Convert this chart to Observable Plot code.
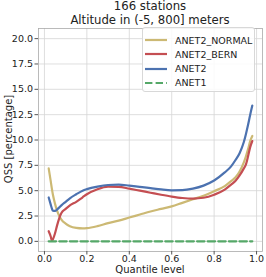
<!DOCTYPE html>
<html><head><meta charset="utf-8">
<script src="https://cdn.jsdelivr.net/npm/d3@7"></script>
<script src="https://cdn.jsdelivr.net/npm/@observablehq/plot@0.6"></script>
<style>
body{margin:0;background:#fff;font-family:"DejaVu Sans",sans-serif;}
#wrap{position:relative;width:266px;height:277px;}
#title{position:absolute;left:38px;width:224px;top:0;text-align:center;font-size:11.7px;line-height:13.5px;color:#222;}
#chart{position:absolute;left:0;top:0;}
#xlabel{position:absolute;left:38px;width:224px;top:264px;text-align:center;font-size:10px;line-height:11px;color:#222;}
#ylabel{position:absolute;left:8px;top:139px;width:0;height:0;}
#ylabel span{position:absolute;left:0;top:0;transform:translate(-50%,-50%) rotate(-90deg);white-space:nowrap;font-size:10px;line-height:11px;color:#222;}
#legend{position:absolute;left:142px;top:27px;width:113px;height:65px;border:1px solid #d8d8d8;border-radius:3px;background:rgba(255,255,255,0.85);box-sizing:border-box;font-size:9.5px;color:#222;}
.item{position:absolute;left:2px;height:14px;display:flex;align-items:center;}
.item svg{margin-right:8px;}
</style></head><body>
<div id="wrap">
<div id="chart"></div>
<div id="title">166 stations<br>Altitude in (-5, 800] meters</div>
<div id="xlabel">Quantile level</div>
<div id="ylabel"><span>QSS [percentage]</span></div>
<div id="legend"></div>
</div>
<script>
const quantiles = [0.02,0.03,0.035,0.04,0.05,0.06,0.07,0.08,0.1,0.12,0.15,0.18,0.2,0.25,0.3,0.35,0.4,0.45,0.5,0.55,0.6,0.65,0.7,0.75,0.8,0.85,0.88,0.9,0.92,0.94,0.95,0.96,0.97,0.98];
const anet2Normal = [7.2,5.9,5.2,4.6,3.7,3.0,2.5,2.15,1.75,1.5,1.33,1.28,1.3,1.5,1.8,2.05,2.35,2.65,2.95,3.2,3.45,3.8,4.15,4.5,4.95,5.45,5.95,6.3,6.9,7.8,8.4,9.1,9.9,10.4];
const anet2Bern   = [1.0,0.45,0.05,0.2,0.8,1.6,2.3,2.8,3.2,3.55,3.9,4.35,4.65,5.15,5.4,5.38,5.2,5.0,4.8,4.6,4.42,4.28,4.22,4.3,4.6,5.1,5.6,5.95,6.5,7.2,7.6,8.4,9.3,9.9];
const anet2       = [4.33,3.6,3.25,3.02,3.0,3.15,3.35,3.55,3.9,4.25,4.65,5.0,5.15,5.4,5.56,5.6,5.5,5.38,5.25,5.12,5.04,5.05,5.2,5.5,6.0,6.8,7.4,8.0,8.7,9.8,10.6,11.5,12.5,13.4];
const anet1       = quantiles.map(() => 0);
const seriesNames = ["ANET2_NORMAL","ANET2_BERN","ANET2","ANET1"];
const seriesColors = ["#CCB974","#C44E52","#4C72B0","#55A868"];
const seriesValues = [anet2Normal, anet2Bern, anet2, anet1];
const xTicks = [0,0.2,0.4,0.6,0.8,1.0];
const yTicks = [0,2.5,5,7.5,10,12.5,15,17.5,20];

const rows = [];
seriesNames.forEach((name,i)=>quantiles.forEach((q,j)=>rows.push({series:name,q,v:seriesValues[i][j]})));

const plot = Plot.plot({
  width:266, height:277,
  marginTop:28, marginBottom:26, marginLeft:38, marginRight:4,
  style:{fontFamily:"DejaVu Sans, sans-serif", fontSize:"9.5px", color:"#222", background:"#fff"},
  x:{domain:[-0.028,1.028]},
  y:{domain:[-1,21]},
  color:{domain:seriesNames, range:seriesColors},
  marks:[
    Plot.gridX(xTicks,{stroke:"#d5d5d5", strokeOpacity:1, strokeWidth:0.8}),
    Plot.gridY(yTicks,{stroke:"#d5d5d5", strokeOpacity:1, strokeWidth:0.8}),
    Plot.frame({stroke:"#aaa", strokeWidth:0.8}),
    Plot.lineY(rows.filter(d=>d.series!=="ANET1"),{x:"q", y:"v", stroke:"series", strokeWidth:2.2, curve:"monotone-x"}),
    Plot.lineY(rows.filter(d=>d.series==="ANET1"),{x:"q", y:"v", stroke:"series", strokeWidth:2.2, strokeDasharray:"7.4,3.2"}),
    Plot.axisX({ticks:xTicks, tickSize:3.5, stroke:"#555", text:null, label:null}),
    Plot.axisX({ticks:xTicks, tickFormat:d3.format(".1f"), tickSize:0, tickPadding:0, dy:3.5, label:null, fontSize:9.5}),
    Plot.axisY({ticks:yTicks, tickFormat:d3.format(".1f"), tickSize:3.5, tickPadding:2, stroke:"#555", label:null, fontSize:9.5})
  ]
});
document.getElementById("chart").appendChild(plot);

const leg = document.getElementById("legend");
seriesNames.forEach((name,i)=>{
  const it = document.createElement("div");
  it.className="item";
  it.style.top = (5 + i*14.3) + "px";
  const dash = name==="ANET1" ? ' stroke-dasharray="7.4,3.2"' : '';
  it.innerHTML = `<svg width="22" height="6"><line x1="0" y1="3" x2="22" y2="3" stroke="${seriesColors[i]}" stroke-width="2.2"${dash}/></svg><span>${name}</span>`;
  leg.appendChild(it);
});
</script>
</body></html>
